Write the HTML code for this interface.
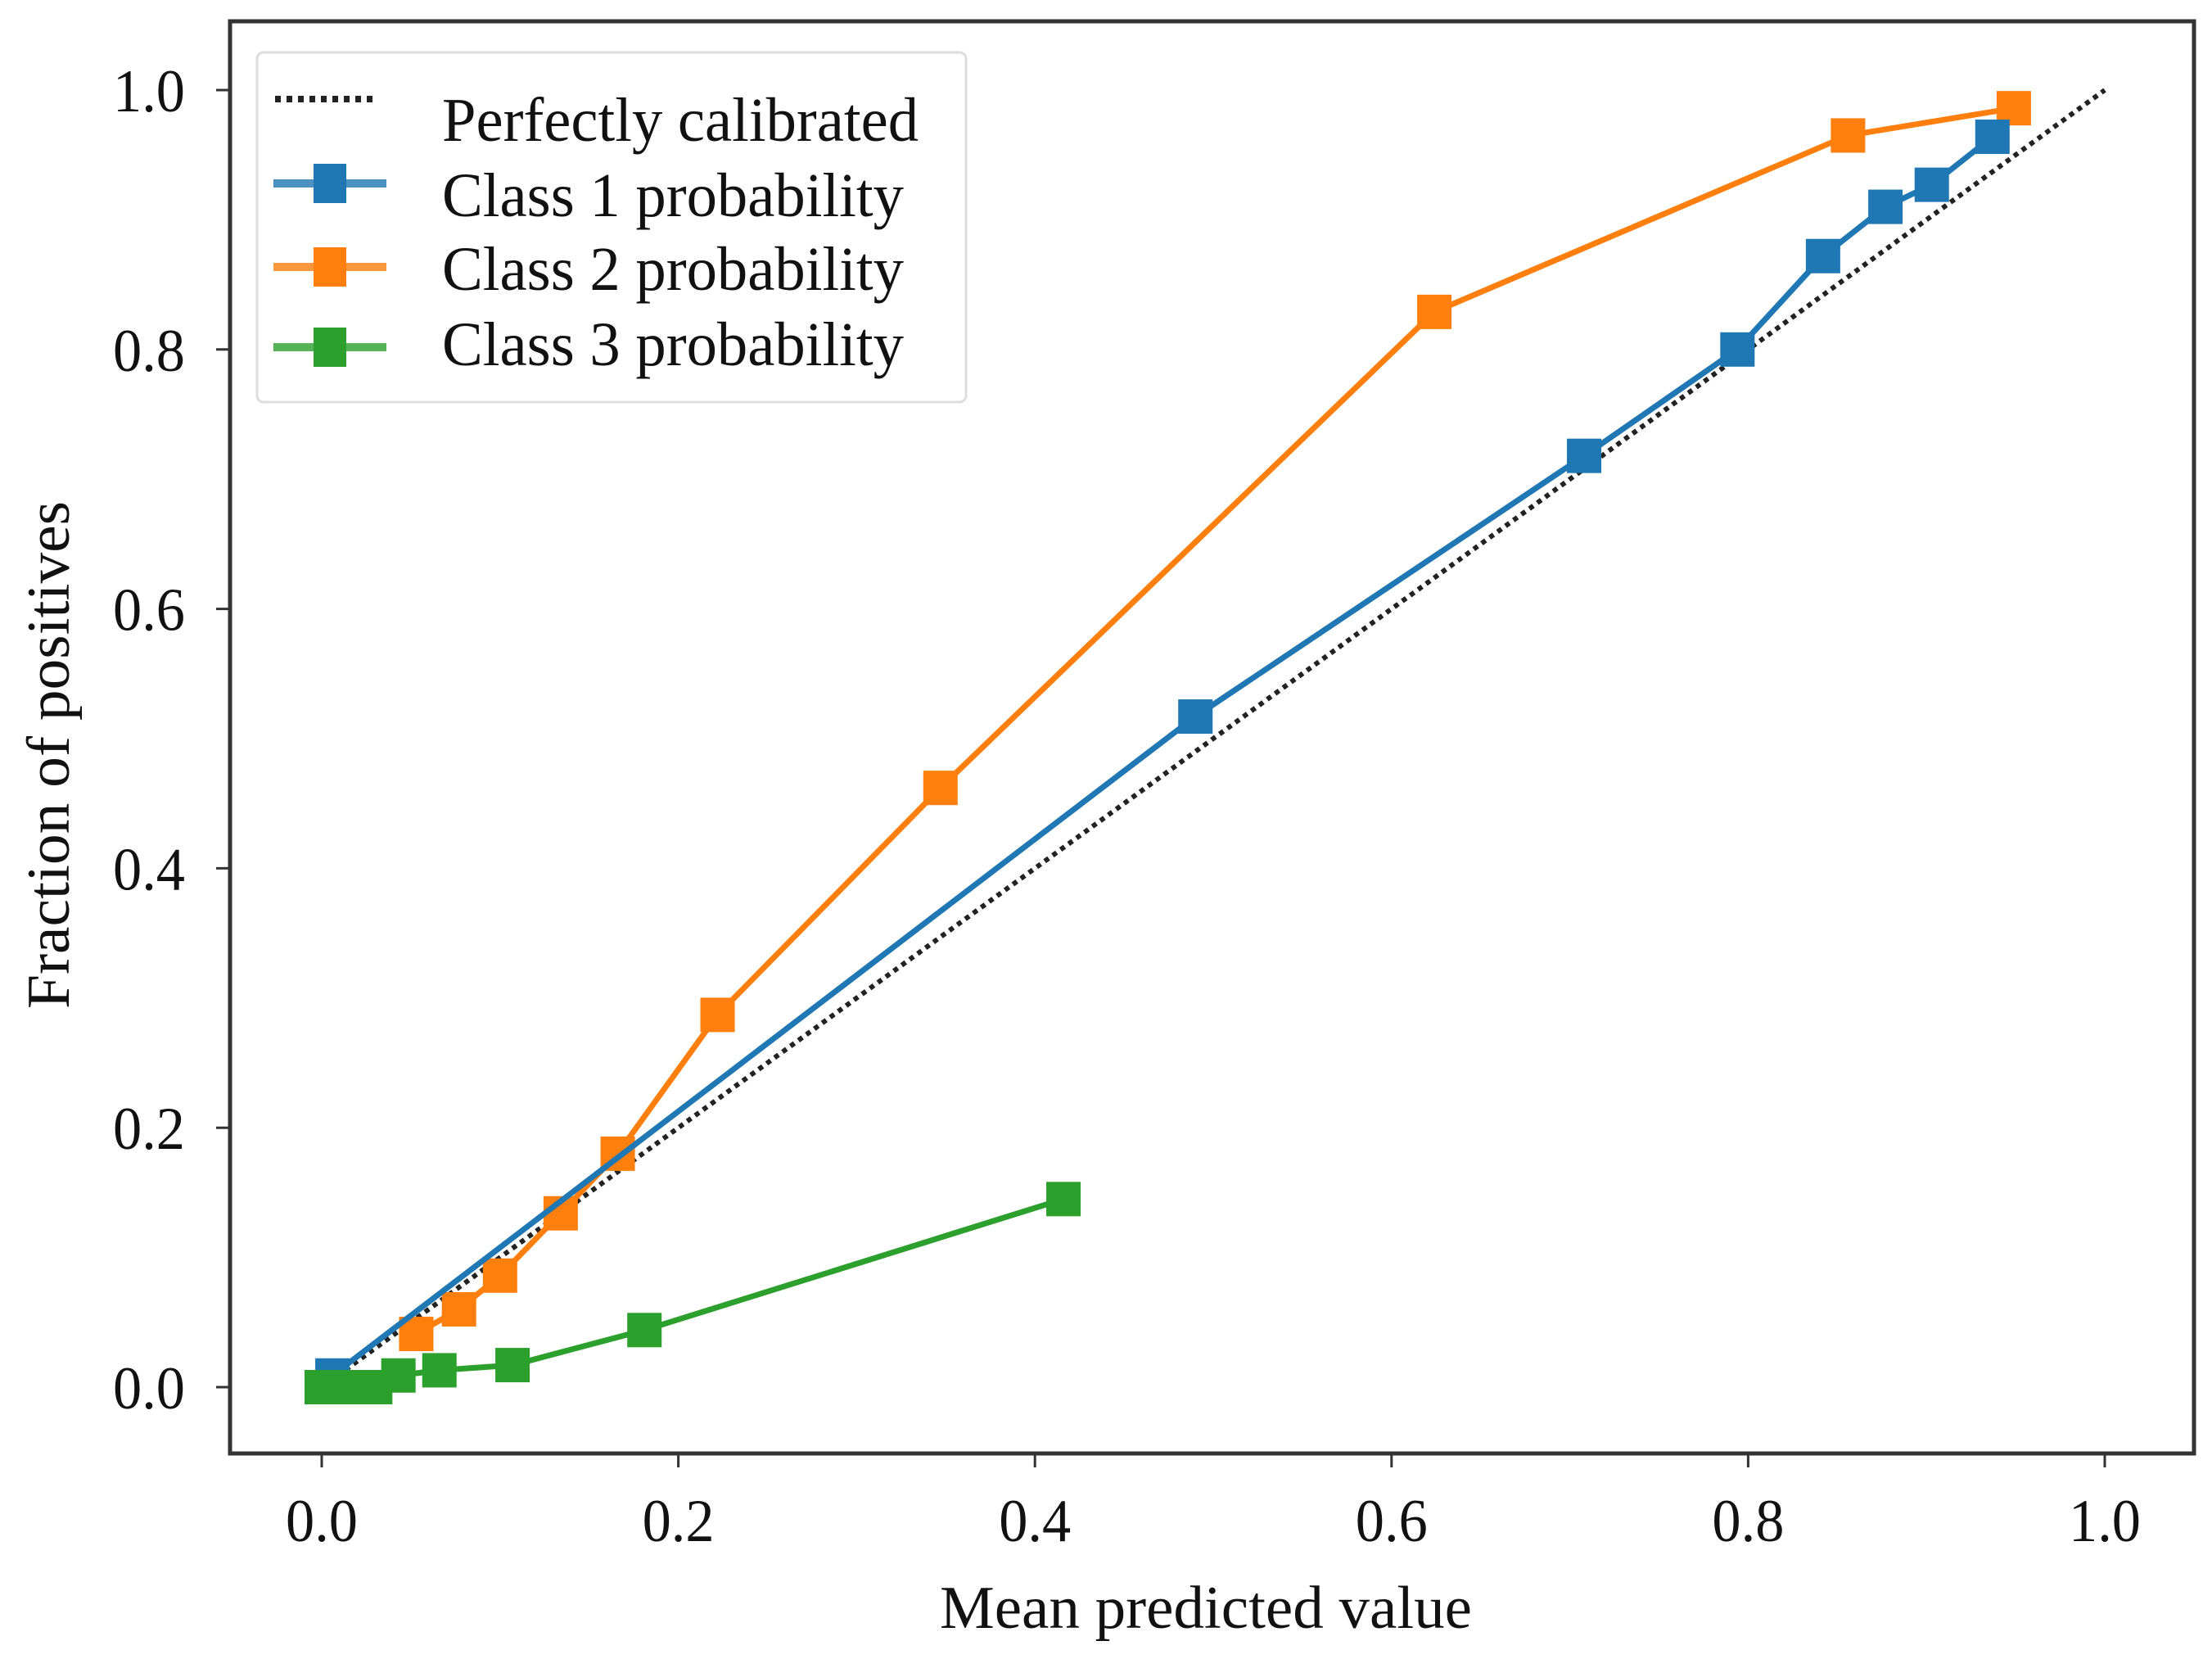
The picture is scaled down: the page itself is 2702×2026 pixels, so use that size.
<!DOCTYPE html>
<html><head><meta charset="utf-8"><style>
html,body{margin:0;padding:0;background:#fff;}
svg{display:block;font-family:"Liberation Serif",serif;}
</style></head><body>
<svg id="chart" width="2702" height="2026" viewBox="0 0 2702 2026">
<rect x="0" y="0" width="2702" height="2026" fill="#fff"/>
<g id="plot"></g>
</svg>
<script>
const xTicks = [0.0, 0.2, 0.4, 0.6, 0.8, 1.0];
const yTicks = [0.0, 0.2, 0.4, 0.6, 0.8, 1.0];
const tickLabels = ["0.0", "0.2", "0.4", "0.6", "0.8", "1.0"];
const class1X = [0.006, 0.49, 0.708, 0.794, 0.842, 0.877, 0.903, 0.937];
const class1Y = [0.009, 0.517, 0.718, 0.80, 0.872, 0.91, 0.927, 0.964];
const class2X = [0.053, 0.077, 0.10, 0.134, 0.166, 0.222, 0.347, 0.624, 0.856, 0.949];
const class2Y = [0.041, 0.06, 0.086, 0.134, 0.18, 0.287, 0.462, 0.829, 0.965, 0.986];
const class3X = [0.0, 0.01, 0.02, 0.03, 0.043, 0.066, 0.107, 0.181, 0.416];
const class3Y = [0.0, 0.0, 0.0, 0.0, 0.009, 0.013, 0.017, 0.044, 0.145];
const seriesNames = ["Perfectly calibrated", "Class 1 probability", "Class 2 probability", "Class 3 probability"];

const NS = "http://www.w3.org/2000/svg";
const L = 281, T = 26, R = 2680, B = 1775;
const X0 = 393, X1 = 2571, Y0 = 1694, Y1 = 110;
function sx(v){ return X0 + (X1 - X0) * v; }
function sy(v){ return Y0 + (Y1 - Y0) * v; }
const g = document.getElementById('plot');
function mk(tag, attrs, parent){
  const e = document.createElementNS(NS, tag);
  for (const k in attrs) e.setAttribute(k, attrs[k]);
  (parent || g).appendChild(e);
  return e;
}

let diag = mk('line', {x1: sx(0), y1: sy(0), x2: sx(1), y2: sy(1), stroke: '#222', 'stroke-width': 6, 'stroke-dasharray': '6 6'});



function series(xs, ys, color, name){
  const grp = mk('g', {});
  
  
  const pts = xs.map((x, i) => sx(x) + ',' + sy(ys[i])).join(' ');
  const pl = mk('polyline', {points: pts, fill: 'none', stroke: color, 'stroke-width': 7, 'stroke-linejoin': 'round'}, grp);
  
  
  xs.forEach((x, i) => {
    const r = mk('rect', {x: sx(x) - 21, y: sy(ys[i]) - 21, width: 42, height: 42, fill: color}, grp);
    
    
  });
}
series(class2X, class2Y, '#ff7f0e', 'class-2');
series(class1X, class1Y, '#1f77b4', 'class-1');
series(class3X, class3Y, '#2ca02c', 'class-3');

let frame = mk('rect', {x: L, y: T, width: R - L, height: B - T, fill: 'none', stroke: '#333', 'stroke-width': 5});



function condensed(x, y, txt, size, anchor, len, name, parent){
  const tx = mk('text', {x: x, y: y, 'font-size': size, 'text-anchor': anchor, fill: '#111'}, parent);
  tx.textContent = txt;
  tx.setAttribute('textLength', len);
  tx.setAttribute('lengthAdjust', 'spacingAndGlyphs');
  
  
  return tx;
}

xTicks.forEach((v, i) => {
  const t = mk('line', {x1: sx(v), y1: B, x2: sx(v), y2: B + 17, stroke: '#333', 'stroke-width': 3});
  
  
  condensed(sx(v), 1882, tickLabels[i], 74, 'middle', 88, 'x-tick-label');
});
yTicks.forEach((v, i) => {
  const t = mk('line', {x1: L - 17, y1: sy(v), x2: L, y2: sy(v), stroke: '#333', 'stroke-width': 3});
  
  
  condensed(226, sy(v) + 26, tickLabels[i], 74, 'end', 88, 'y-tick-label');
});

condensed(1473, 1988, 'Mean predicted value', 74, 'middle', 650, 'x-axis-title');
let yl = mk('text', {x: 0, y: 0, 'font-size': 74, 'text-anchor': 'middle', fill: '#111', transform: 'translate(84,922) rotate(-90)'});
yl.textContent = 'Fraction of positives';
yl.setAttribute('textLength', 620);
yl.setAttribute('lengthAdjust', 'spacingAndGlyphs');



const lg = mk('g', {});


let lbox = mk('rect', {x: 314, y: 64, width: 866, height: 427, rx: 8, fill: '#fff', stroke: '#ddd', 'stroke-width': 3}, lg);


const colors = [null, '#1f77b4', '#ff7f0e', '#2ca02c'];
const swatchY = [121, 224, 326, 424];
const textY = [146, 238, 328, 420];
seriesNames.forEach((n, i) => {
  const y = swatchY[i];
  if (i === 0) {
    const d = mk('line', {x1: 336, y1: y, x2: 460, y2: y, stroke: '#222', 'stroke-width': 8, 'stroke-dasharray': '7 7'}, lg);
    
    
  } else {
    const l = mk('line', {x1: 334, y1: y, x2: 472, y2: y, stroke: colors[i], 'stroke-width': 10, opacity: 0.8}, lg);
    
    
    const r = mk('rect', {x: 383, y: y - 24, width: 40, height: 48, fill: colors[i]}, lg);
    
    
  }
  condensed(540, textY[i] + 26, n, 76, 'start', i === 0 ? 582 : 564, 'legend-entry', lg);
});
</script>
</body></html>
